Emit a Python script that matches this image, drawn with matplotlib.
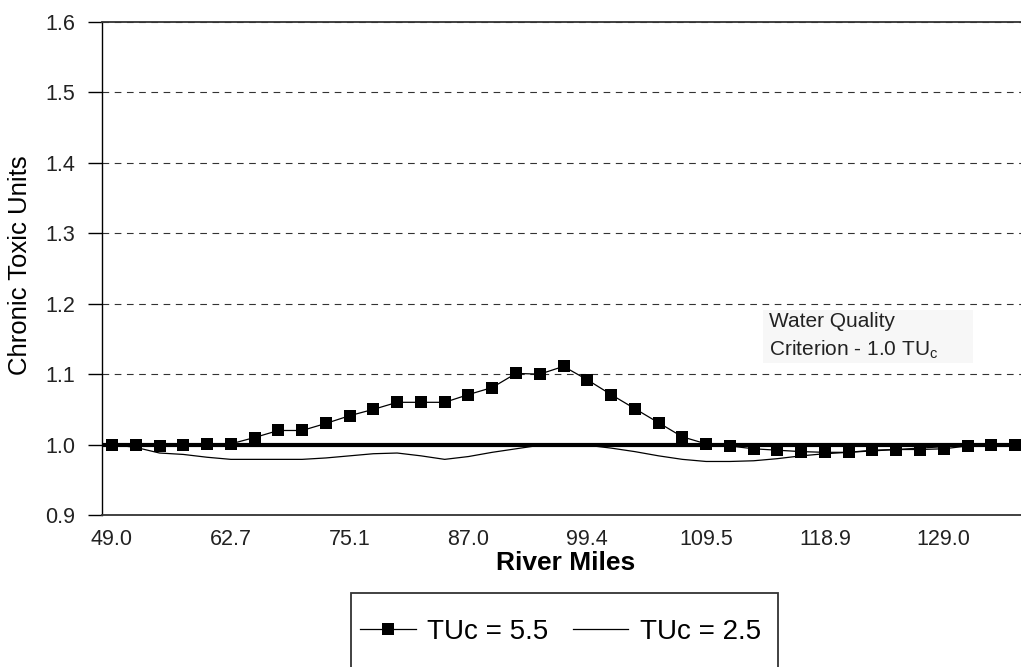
import matplotlib

matplotlib.use("Agg")
import matplotlib.pyplot as plt
from matplotlib.patches import Rectangle

plt.rcParams["font.family"] = ["Liberation Sans", "DejaVu Sans"]

# one value per river-mile station (categorical x axis)
tuc_55 = [
    1.000, 0.999, 0.998, 1.000, 1.001, 1.001, 1.010, 1.020, 1.020, 1.030,
    1.041, 1.050, 1.060, 1.060, 1.060, 1.071, 1.081, 1.101, 1.100, 1.111,
    1.092, 1.071, 1.051, 1.031, 1.011, 1.001, 0.998, 0.994, 0.992, 0.990,
    0.989, 0.989, 0.992, 0.993, 0.993, 0.994, 0.998, 0.999, 1.000,
]
tuc_25 = [
    1.000, 0.996, 0.988, 0.986, 0.982, 0.979, 0.979, 0.979, 0.979, 0.981,
    0.984, 0.987, 0.988, 0.984, 0.979, 0.983, 0.989, 0.994, 0.999, 1.000,
    0.999, 0.995, 0.990, 0.984, 0.979, 0.976, 0.976, 0.977, 0.980, 0.984,
    0.987, 0.989, 0.991, 0.993, 0.995, 0.997, 0.999, 1.000, 1.000,
]
tick_labels = ["49.0", "62.7", "75.1", "87.0", "99.4", "109.5", "118.9", "129.0"]
tick_step = 5
criterion = 1.0
series_labels = ["TUc = 5.5", "TUc = 2.5"]
y_ticks = [0.9, 1.0, 1.1, 1.2, 1.3, 1.4, 1.5, 1.6]

W, H = 1021, 667
fig = plt.figure(figsize=(W / 100, H / 100), dpi=100)
ax = fig.add_axes([102 / W, 1 - 515 / H, 919 / W, 493 / H])

x = list(range(len(tuc_55)))
ax.axhline(criterion, color="black", linewidth=3, zorder=2)
(l25,) = ax.plot(x, tuc_25, color="black", linewidth=0.9, zorder=3)
(l55,) = ax.plot(
    x, tuc_55, color="black", linewidth=0.9, marker="s",
    markersize=8.5, markeredgewidth=0, zorder=4,
)

ax.set_xlim(-0.42, 38.25)
ax.set_ylim(0.9, 1.6)
ax.set_yticks(y_ticks)
ax.set_yticklabels(["%.1f" % v for v in y_ticks])
ax.set_xticks(x[::tick_step][: len(tick_labels)])
ax.set_xticklabels(tick_labels)

ax.tick_params(axis="x", length=0, pad=10, labelsize=15.5, labelcolor="#222222")
ax.tick_params(axis="y", length=10, width=1, direction="out", pad=9,
               labelsize=15.5, labelcolor="#222222")

ax.yaxis.grid(True, linestyle=(0, (6, 5)), color="#333333", linewidth=0.8)
ax.set_axisbelow(True)

ax.spines["right"].set_visible(False)
ax.spines["top"].set_color("#333333")
ax.spines["top"].set_linewidth(1.3)
ax.spines["bottom"].set_color("#333333")
ax.spines["bottom"].set_linewidth(1.3)
ax.spines["left"].set_linewidth(1.0)

ax.set_ylabel("Chronic Toxic Units", fontsize=18.5)
ax.yaxis.set_label_coords(-0.076, 0.507)
ax.set_xlabel("River Miles", fontsize=19, fontweight="bold")
ax.xaxis.label.set_va("center")
ax.xaxis.set_label_coords(0.504, -0.097)

# criterion note box
fig.patches.append(Rectangle((763 / W, 1 - 363 / H), 210 / W, 53 / H,
                             transform=fig.transFigure, facecolor="#f7f7f7",
                             edgecolor="none", zorder=1))
fig.text(769 / W, 1 - 327 / H, "Water Quality", fontsize=15,
         color="#222222", va="baseline", ha="left")
fig.text(769 / W, 1 - 355 / H, r"Criterion - 1.0 TU$_\mathregular{c}$",
         fontsize=15, color="#222222", va="baseline", ha="left")

# legend box below the axis
fig.patches.append(Rectangle((351 / W, 1 - 672 / H), 427 / W, 79 / H,
                             transform=fig.transFigure, facecolor="white",
                             edgecolor="#333333", linewidth=1.3))
fig.legend(
    [l55, l25], series_labels, loc="center left",
    bbox_to_anchor=(360 / W, 1 - 632 / H), ncol=2, frameon=False,
    fontsize=20, handlelength=2.0, handletextpad=0.4, columnspacing=0.9,
    borderpad=0, borderaxespad=0, numpoints=1,
)

fig.savefig("out.png", dpi=100)
